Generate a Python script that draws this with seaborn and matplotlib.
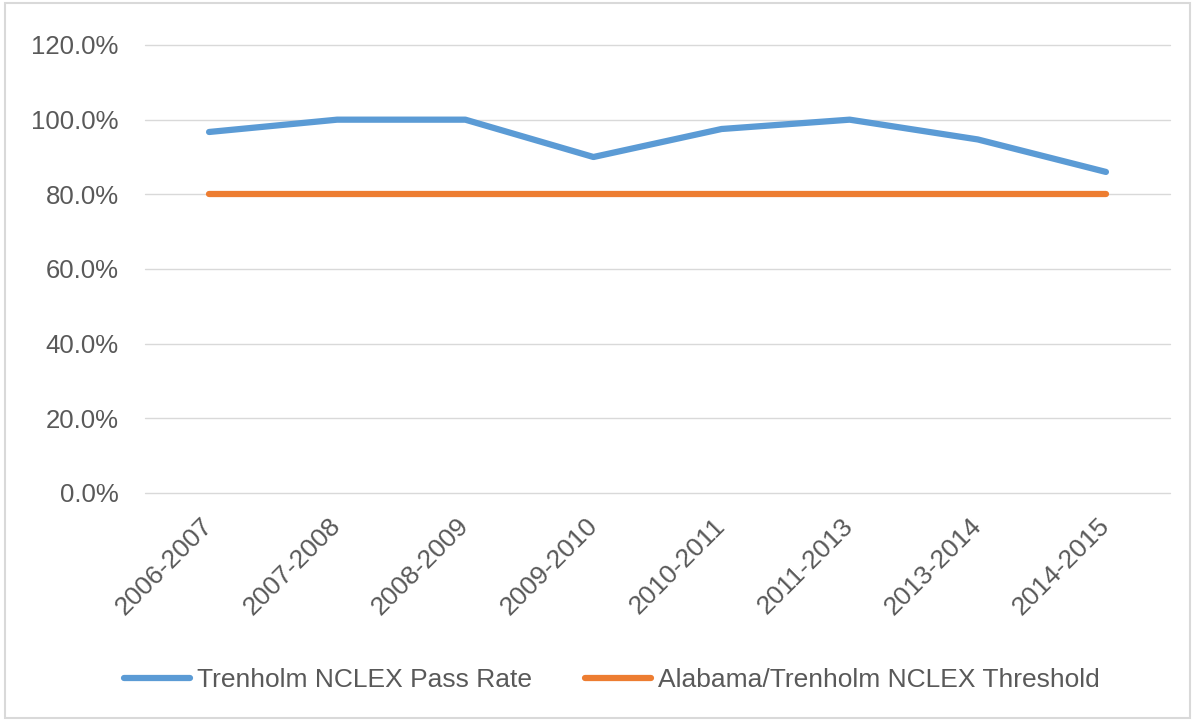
import matplotlib
matplotlib.use("Agg")
import matplotlib.pyplot as plt
import seaborn as sns
import pandas as pd
from matplotlib.ticker import FuncFormatter, MultipleLocator
from matplotlib.lines import Line2D

years = ["2006-2007", "2007-2008", "2008-2009", "2009-2010",
         "2010-2011", "2011-2013", "2013-2014", "2014-2015"]
pass_rate = [0.967, 1.00, 1.00, 0.90, 0.975, 1.00, 0.947, 0.86]
threshold = [0.80, 0.80, 0.80, 0.80, 0.80, 0.80, 0.80, 0.80]
series_names = ["Trenholm NCLEX Pass Rate", "Alabama/Trenholm NCLEX Threshold"]
colors = ["#5B9BD5", "#ED7D31"]

df = pd.DataFrame({
    "year": years * 2,
    "x": list(range(len(years))) * 2,
    "value": pass_rate + threshold,
    "series": [series_names[0]] * len(years) + [series_names[1]] * len(years),
})

sns.set_theme(style="white")
plt.rcParams["font.family"] = ["Liberation Sans", "DejaVu Sans"]

fig = plt.figure(figsize=(11.95, 7.21), dpi=100)
ax = fig.add_axes([145 / 1195, 1 - 493 / 721, (1170 - 145) / 1195, (493 - 45) / 721])

sns.lineplot(data=df, x="x", y="value", hue="series", palette=colors,
             linewidth=4.5, ax=ax, legend=False, solid_capstyle="round",
             zorder=3)

ax.set_xlim(-0.5, len(years) - 0.5)
ax.set_ylim(0, 1.2)
ax.yaxis.set_major_locator(MultipleLocator(0.2))
ax.yaxis.set_major_formatter(FuncFormatter(lambda v, p: f"{v*100:.1f}%"))
ax.set_xticks(range(len(years)))
ax.set_xticklabels(years, rotation=45, ha="right", va="center", rotation_mode="anchor")
ax.set_xlabel("")
ax.set_ylabel("")
ax.grid(axis="y", color="#D9D9D9", linewidth=1)
ax.grid(axis="x", visible=False)
for gl in ax.get_ygridlines():
    gl.set_clip_on(False)
for s in ax.spines.values():
    s.set_visible(False)
ax.tick_params(axis="y", length=0, labelsize=18.5, colors="#595959", pad=19)
ax.tick_params(axis="x", length=0, labelsize=19, colors="#595959", pad=21)

handles = [Line2D([0], [0], color=c, linewidth=4.5, solid_capstyle="round") for c in colors]
fig.legend(handles, series_names, loc="center", bbox_to_anchor=(612 / 1195, 1 - 680 / 721),
           ncol=2, frameon=False, fontsize=19, handlelength=2.5, handletextpad=0.27,
           columnspacing=2.0, labelcolor="#595959")

border = plt.Rectangle((0.004, 0.004), 0.992, 0.992, transform=fig.transFigure,
                       fill=False, edgecolor="#D9D9D9", linewidth=1.5)
fig.patches.append(border)

fig.savefig("out.png", dpi=100)
